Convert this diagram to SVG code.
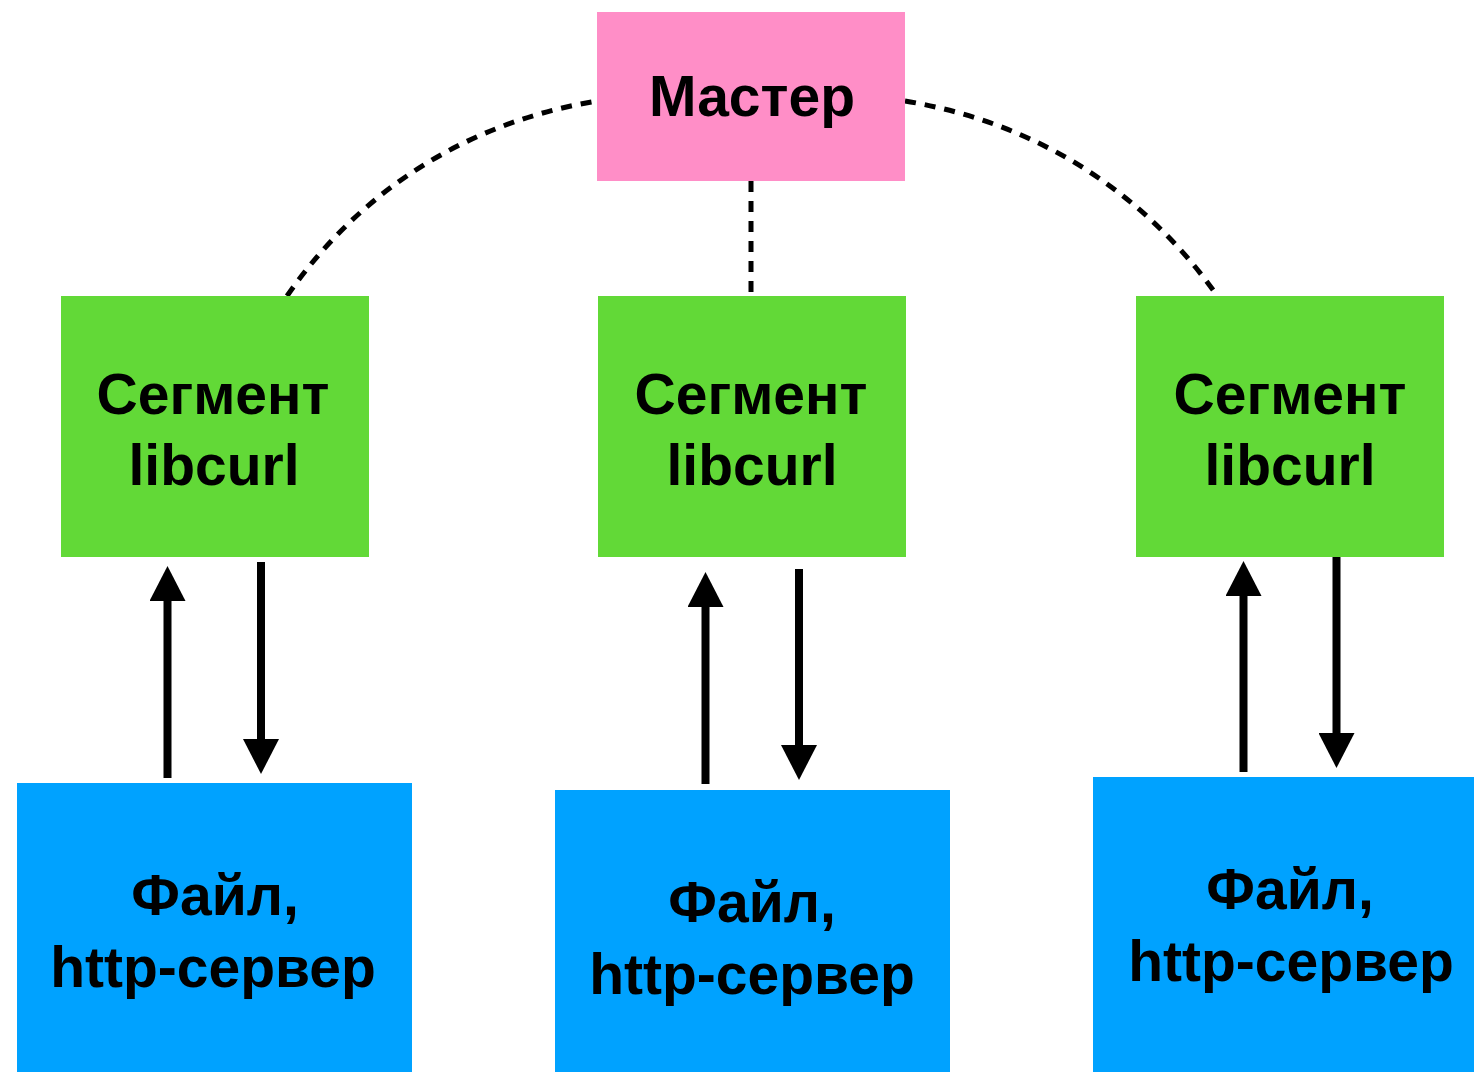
<svg xmlns="http://www.w3.org/2000/svg" width="1474" height="1072" viewBox="0 0 1474 1072">
  <style>
    .label { font-family: "Liberation Sans", Arial, Helvetica, sans-serif; font-weight: bold; font-size: 57px; fill: #000; text-anchor: middle; }
    .master { fill: #FF8EC7; }
    .segment { fill: #62D937; }
    .source { fill: #00A2FF; }
    .link { fill: none; stroke: #000; stroke-width: 5; stroke-dasharray: 11 9; }
    .flow { stroke: #000; stroke-width: 8; fill: none; marker-end: url(#head); }
  </style>
  <defs>
    <marker id="head" markerUnits="userSpaceOnUse" markerWidth="35" markerHeight="36" viewBox="0 0 35 36" refX="2" refY="18" orient="auto">
      <path d="M0,0 L35,18 L0,36 Z" fill="#000"/>
    </marker>
  </defs>
  <rect width="1474" height="1072" fill="#fff"/>

  <!-- connectors -->
  <g id="connectors">
    <path class="link" d="M287,296 C361,189 469,122 597,101"/>
    <path class="link" d="M751,181 L751,296"/>
    <path class="link" d="M905,101 C1033,122 1141,189 1216,294"/>

    <line class="flow" x1="167.5" y1="778" x2="167.5" y2="599"/>
    <line class="flow" x1="261" y1="562" x2="261" y2="741"/>

    <line class="flow" x1="705.5" y1="784" x2="705.5" y2="605"/>
    <line class="flow" x1="799" y1="569" x2="799" y2="747"/>

    <line class="flow" x1="1243.5" y1="772" x2="1243.5" y2="594"/>
    <line class="flow" x1="1336.5" y1="556" x2="1336.5" y2="735"/>
  </g>

  <!-- master -->
  <g id="master">
    <rect class="master" x="597" y="12" width="308" height="169"/>
    <text class="label" x="752" y="116">Мастер</text>
  </g>

  <!-- libcurl segments -->
  <g id="segment-1">
    <rect class="segment" x="61" y="296" width="308" height="261"/>
    <text class="label" x="213" y="414">Сегмент</text>
    <text class="label" x="214" y="485">libcurl</text>
  </g>
  <g id="segment-2">
    <rect class="segment" x="598" y="296" width="308" height="261"/>
    <text class="label" x="751" y="414">Сегмент</text>
    <text class="label" x="752" y="485">libcurl</text>
  </g>
  <g id="segment-3">
    <rect class="segment" x="1136" y="296" width="308" height="261"/>
    <text class="label" x="1290" y="414">Сегмент</text>
    <text class="label" x="1290" y="485">libcurl</text>
  </g>

  <!-- sources -->
  <g id="source-1">
    <rect class="source" x="17" y="783" width="395" height="289"/>
    <text class="label" x="215" y="915">Файл,</text>
    <text class="label" x="213" y="987">http-сервер</text>
  </g>
  <g id="source-2">
    <rect class="source" x="555" y="790" width="395" height="282"/>
    <text class="label" x="752" y="922">Файл,</text>
    <text class="label" x="752" y="994">http-сервер</text>
  </g>
  <g id="source-3">
    <rect class="source" x="1093" y="777" width="381" height="295"/>
    <text class="label" x="1290" y="909">Файл,</text>
    <text class="label" x="1291" y="981">http-сервер</text>
  </g>
</svg>
